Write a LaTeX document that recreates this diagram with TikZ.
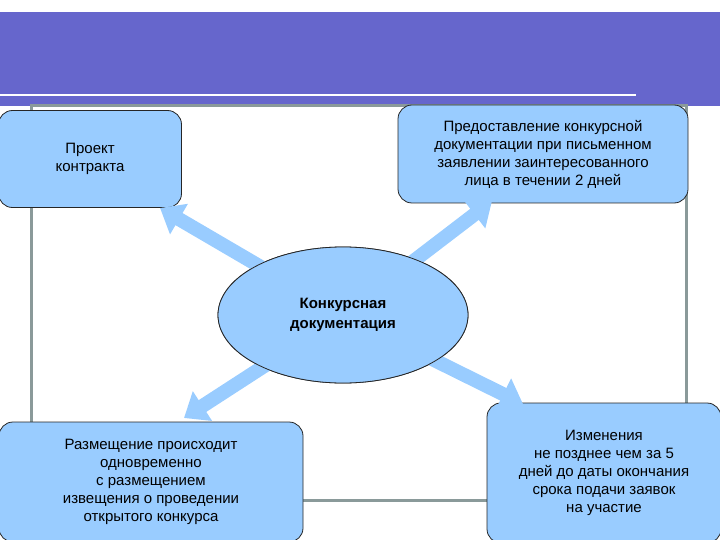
\documentclass[tikz,border=0pt]{standalone}
\usepackage{fontspec}
\setmainfont{Liberation Sans}
\usetikzlibrary{arrows.meta,shapes.geometric}
\definecolor{boxfill}{HTML}{99CCFF}
\definecolor{banner}{HTML}{6666CC}
\definecolor{frame}{HTML}{8A9A9A}
\tikzset{
  box/.style={draw=black!85,line width=0.8pt,fill=boxfill,rounded corners=14pt,align=center,font=\fontsize{15}{18}\selectfont,inner sep=0pt},
  blockarrow/.style={draw=boxfill,line width=14pt,-{Triangle[length=22pt,width=34pt]}}
}
\begin{document}
\begin{tikzpicture}[x=1pt,y=-1pt]
\useasboundingbox (0,0) rectangle (720,540);
\fill[banner] (0,12) rectangle (720,106);
\draw[white,line width=2pt] (0,95) -- (636,95);
\draw[frame,line width=3pt] (31,106) rectangle (686,500);
\node[box,minimum width=183pt,minimum height=97pt] (pk) at (90,159) {Проект\\контракта};
\node[box,minimum width=290pt,minimum height=98pt] (pr) at (543,154) {Предоставление конкурсной\\документации при письменном\\заявлении заинтересованного\\лица в течении 2 дней};
\node[box,minimum width=304pt,minimum height=120pt] (rz) at (151,482) {Размещение происходит\\одновременно\\с размещением\\извещения о проведении\\открытого конкурса};
\node[box,minimum width=234pt,minimum height=140pt] (iz) at (604,473) {Изменения\\не позднее чем за 5\\дней до даты окончания\\срока подачи заявок\\на участие};
\coordinate (t1) at (160,208);
\coordinate (t2) at (492,201);
\coordinate (t3) at (184,418);
\coordinate (t4) at (523,404);
\node[ellipse,draw=black!85,line width=0.8pt,fill=boxfill,minimum width=250pt,minimum height=136pt,align=center,font=\bfseries\fontsize{15}{20}\selectfont] (e) at (343,315) {};
\draw[blockarrow] (e.center) -- (t1);
\draw[blockarrow] (e.center) -- (t2);
\draw[blockarrow] (e.center) -- (t3);
\draw[blockarrow] (e.center) -- (t4);
\node[ellipse,draw=black!85,line width=0.8pt,fill=boxfill,minimum width=250pt,minimum height=136pt,align=center,font=\bfseries\fontsize{15}{20}\selectfont] (e2) at (343,315) {Конкурсная\\документация};
\end{tikzpicture}
\end{document}
